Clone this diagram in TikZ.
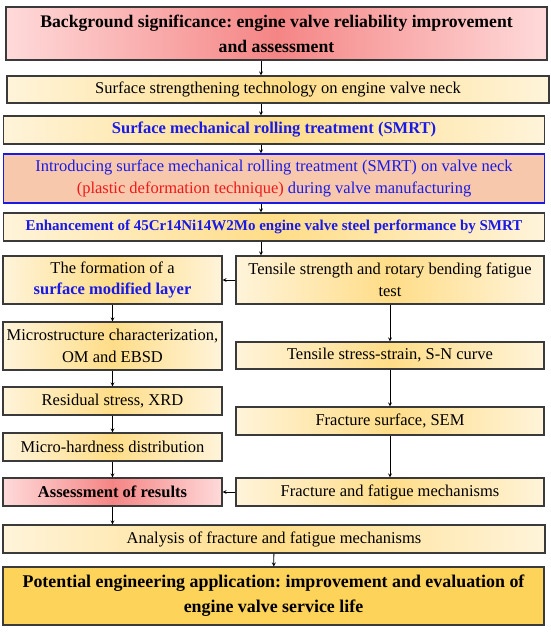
\documentclass[tikz,border=0pt]{standalone}
\usepackage{fontspec}
\setmainfont{Liberation Serif}
\frenchspacing
\definecolor{boxline}{HTML}{3A3A3A}
\definecolor{creamedge}{HTML}{FFF4DA}
\definecolor{creammid}{HTML}{FFDD88}
\definecolor{pinkedge}{HTML}{FFDADA}
\definecolor{pinkmid}{HTML}{F58585}
\definecolor{salmon}{HTML}{F8C8AC}
\definecolor{gold}{HTML}{FDD35A}
\definecolor{txtblue}{HTML}{1A1AE6}
\definecolor{txtred}{HTML}{F01818}
\tikzset{
  stage/.style={draw=boxline, line width=1.1pt, align=center, inner sep=2pt,
    font=\fontsize{16.5}{21.5}\selectfont},
  cream/.style={stage, left color=creamedge, right color=creamedge, middle color=creammid},
  pink/.style={stage, left color=pinkedge, right color=pinkedge, middle color=pinkmid},
  arr/.style={-stealth, line width=0.8pt}
}
\begin{document}
\begin{tikzpicture}[x=1pt,y=-1pt]
  \useasboundingbox (0,0) rectangle (550,632);
  \node[pink, minimum width=541pt, minimum height=53pt,
    font=\fontsize{17.7}{25}\selectfont\bfseries] (bg) at (276.5,33.5)
    {Background significance: engine valve reliability improvement\\and assessment};
  \node[cream, minimum width=542pt, minimum height=27pt] (tech) at (278,89.5)
    {Surface strengthening technology on engine valve neck};
  \node[cream, minimum width=541pt, minimum height=28pt, text=txtblue, font=\fontsize{16.5}{21.5}\selectfont\bfseries] (smrt) at (274,130)
    {Surface mechanical rolling treatment (SMRT)};
  \node[stage, draw=txtblue, fill=salmon, minimum width=541pt, minimum height=49pt, text=txtblue] (intro) at (274,178.5)
    {Introducing surface mechanical rolling treatment (SMRT) on valve neck\\
     \textcolor{txtred}{(plastic deformation technique)} during valve manufacturing};
  \node[cream, minimum width=541pt, minimum height=28pt, text=txtblue, font=\fontsize{15}{21}\selectfont\bfseries] (enh) at (274,227)
    {Enhancement of 45Cr14Ni14W2Mo engine valve steel performance by SMRT};
  \node[cream, minimum width=219pt, minimum height=48pt] (form) at (112.5,280)
    {The formation of a\\\textcolor{txtblue}{\bfseries surface modified layer}};
  \node[cream, minimum width=308pt, minimum height=48pt] (tens) at (390,280)
    {Tensile strength and rotary bending fatigue\\test};
  \node[cream, minimum width=219pt, minimum height=48pt] (micro) at (112.5,346)
    {Microstructure characterization,\\OM and EBSD};
  \node[cream, minimum width=308pt, minimum height=27pt] (strain) at (390,355.5)
    {Tensile stress-strain, S-N curve};
  \node[cream, minimum width=219pt, minimum height=28pt] (resid) at (112.5,401)
    {Residual stress, XRD};
  \node[cream, minimum width=308pt, minimum height=28pt] (fsurf) at (390,421)
    {Fracture surface, SEM};
  \node[cream, minimum width=219pt, minimum height=28pt] (hard) at (112.5,447)
    {Micro-hardness distribution};
  \node[pink, minimum width=219pt, minimum height=28pt, font=\fontsize{16.5}{21.5}\selectfont\bfseries] (assess) at (112.5,492)
    {Assessment of results};
  \node[cream, minimum width=308pt, minimum height=28pt] (mech) at (390,492)
    {Fracture and fatigue mechanisms};
  \node[cream, minimum width=542pt, minimum height=28pt] (anal) at (274,539)
    {Analysis of fracture and fatigue mechanisms};
  \node[stage, fill=gold, minimum width=541pt, minimum height=58pt,
    font=\fontsize{17.9}{25}\selectfont\bfseries] (pot) at (273.5,596)
    {Potential engineering application: improvement and evaluation of\\engine valve service life};
  \coordinate (spine) at (261,0);
  \draw[arr] (bg.south -| spine) -- (tech.north -| spine);
  \draw[arr] (tech.south -| spine) -- (smrt.north -| spine);
  \draw[arr] (smrt.south -| spine) -- (intro.north -| spine);
  \draw[arr] (intro.south -| spine) -- (enh.north -| spine);
  \draw[arr] (enh.south -| spine) -- (tens.north -| spine);
  \draw[arr] (tens.west) -- (form.east);
  \draw[arr] (form) -- (micro);
  \draw[arr] (micro) -- (resid);
  \draw[arr] (resid) -- (hard);
  \draw[arr] (hard) -- (assess);
  \draw[arr] (tens) -- (strain);
  \draw[arr] (strain) -- (fsurf);
  \draw[arr] (fsurf) -- (mech);
  \draw[arr] (mech) -- (assess);
  \draw[arr] (assess.south) -- (anal.north -| assess);
  \draw[arr] (anal) -- (pot);
\end{tikzpicture}
\end{document}
